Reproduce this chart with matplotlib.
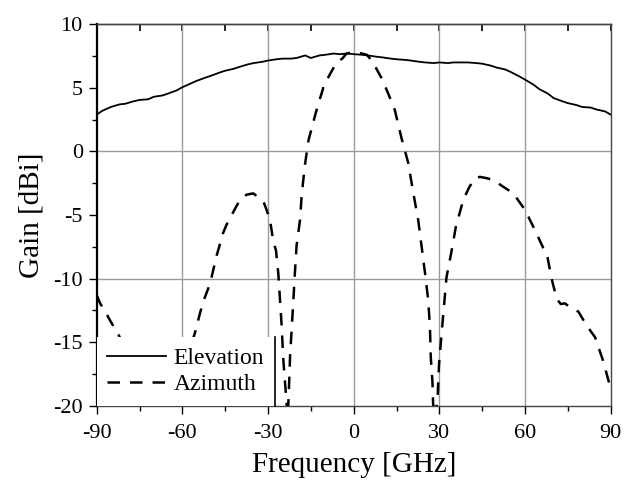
import matplotlib
matplotlib.use("Agg")
import matplotlib.pyplot as plt
from matplotlib.ticker import MultipleLocator, FixedLocator

plt.rcParams['font.family'] = ['Liberation Serif', 'DejaVu Serif']
plt.rcParams['axes.unicode_minus'] = False

# Elevation cut (solid)
elev_x = [-90, -88, -85, -82, -80, -77, -75, -72, -70, -67, -65, -62, -60, -57, -55, -52, -50,
          -47, -45, -42, -40, -37, -35, -32, -30, -27, -25, -22, -20, -17, -15, -12, -10, -7,
          -5, -2, 0, 3, 5, 8, 10, 13, 15, 18, 20, 23, 25, 28, 30, 33, 35, 38, 40, 43, 45, 48,
          50, 53, 55, 58, 60, 63, 65, 68, 70, 73, 75, 78, 80, 83, 85, 88, 90]
elev_y = [2.9, 3.2, 3.5, 3.7, 3.75, 3.95, 4.05, 4.1, 4.3, 4.4, 4.55, 4.8, 5.05, 5.35, 5.55, 5.8, 5.95,
          6.2, 6.35, 6.5, 6.65, 6.85, 6.95, 7.05, 7.15, 7.25, 7.3, 7.3, 7.35, 7.55, 7.35, 7.55, 7.6, 7.7,
          7.65, 7.7, 7.65, 7.6, 7.55, 7.45, 7.4, 7.3, 7.25, 7.2, 7.15, 7.05, 7.0, 6.95, 7.0, 6.95, 7.0, 7.0, 7.0, 6.95, 6.9, 6.75,
          6.6, 6.45, 6.25, 5.9, 5.65, 5.25, 4.9, 4.55, 4.2, 3.95, 3.8, 3.65, 3.5, 3.45, 3.3, 3.15, 2.9]

# Azimuth cut (dashed)
azi_x = [-90, -88.8, -87, -85.3, -82.4, -80, -75, -70, -65, -60, -56.2, -55.5, -53.8, -52.5, -50.3, -48,
         -45.7, -44.6, -41.3, -39.8, -37.5, -35.2, -33.4, -31.5, -30.5, -29.3, -28.2, -27.2, -26.4,
         -25.8, -25.2, -24.7, -24.1, -23.5, -23.1, -22.6, -22.3, -21.7, -21.2, -20.6, -20.0, -18.8,
         -18.2, -17.1, -15.8, -13.2, -10.4, -8.0, -6.0, -4.0, -2.5, 0.0, 2.0, 4.6, 6.5, 9.8, 12.0,
         14.4, 16.8, 19.1, 20.8, 22.6, 23.8, 25.0, 26.1, 26.7, 27.0, 27.6, 27.8, 28.5, 29.4, 29.9,
         30.8, 31.6, 32.5, 34.3, 35.8, 38.4, 40.5, 42.5, 44.2, 46.5, 48.9, 51.2, 55.9, 60.0, 63.5,
         66.4, 67.6, 69.3, 71.1, 72.5, 74.0, 76.0, 78.7, 81.6, 84.5, 87.4, 89.8, 90.0]
azi_y = [-11.3, -11.95, -12.6, -13.3, -14.4, -15.5, -18.0, -21.0, -22.0, -18.5, -14.7, -14.2, -12.7, -11.7, -10.4, -8.2,
         -6.4, -5.8, -4.4, -3.8, -3.4, -3.3, -3.6, -4.0, -4.6, -5.4, -7.0, -7.8, -9.6,
         -11.7, -13.8, -16.2, -18.0, -19.8, -21.0, -18.2, -16.2, -13.9, -12.0, -9.6, -7.4, -5.4,
         -3.4, -1.1, 0.9, 3.1, 5.2, 6.2, 7.0, 7.3, 7.7, 7.8, 7.75, 7.6, 7.1, 5.75, 4.6,
         3.26, 1.0, -0.9, -3.17, -5.4, -7.5, -9.6, -11.7, -13.8, -16.2, -18.2, -19.8, -21.0, -19.3, -16.7,
         -14.3, -12.2, -9.9, -7.8, -5.9, -3.8, -2.8, -2.1, -2.0, -2.1, -2.25, -2.6, -3.3, -4.6, -6.2,
         -7.6, -8.0, -10.0, -11.6, -12.0, -11.95, -12.3, -12.6, -13.7, -14.6, -16.5, -18.5, -18.8]

x_ticks = [-90, -60, -30, 0, 30, 60, 90]
y_ticks = [-20, -15, -10, -5, 0, 5, 10]

fig = plt.figure(figsize=(6.25, 4.83), dpi=100)
ax = fig.add_axes([0.1547, 0.160, 0.8224, 0.7897])

# grid
for gx in [-60, -30, 0, 30, 60]:
    ax.axvline(gx, color='#9a9a9a', lw=1.0, zorder=1)
for gy in [-10, 0]:
    ax.axhline(gy, color='#9a9a9a', lw=1.0, zorder=1)

ax.plot(elev_x, elev_y, color='black', lw=1.3, label='Elevation', zorder=3)
ax.plot(azi_x, azi_y, color='black', lw=1.8, linestyle=(0, (5, 4)), label='Azimuth', zorder=3)

ax.set_xlim(-90, 90)
ax.set_ylim(-20, 10)
ax.xaxis.set_major_locator(FixedLocator(x_ticks))
ax.xaxis.set_minor_locator(MultipleLocator(15))
ax.yaxis.set_major_locator(FixedLocator(y_ticks))
ax.yaxis.set_minor_locator(MultipleLocator(2.5))
ax.tick_params(axis='both', which='major', direction='out', length=6, width=1.0, labelsize=16, pad=4)
ax.tick_params(axis='both', which='minor', direction='out', length=3.5, width=1.0)
ax.tick_params(axis='x', which='major', pad=7)

# top ticks pointing inward
top = ax.secondary_xaxis('top')
top.xaxis.set_major_locator(MultipleLocator(15))
top.tick_params(direction='in', length=5, width=1.2, labeltop=False)
top.spines['top'].set_linewidth(1.0)
top.spines['top'].set_color('#444444')

for s in ['top', 'right', 'bottom']:
    ax.spines[s].set_linewidth(1.0)
    ax.spines[s].set_color('#444444')
ax.spines['left'].set_linewidth(1.6)

ax.set_xlabel('Frequency [GHz]', fontsize=21, labelpad=7)
ax.set_ylabel('Gain [dBi]', fontsize=21, labelpad=6)

leg = ax.legend(loc='lower left', bbox_to_anchor=(0, 0), borderaxespad=0, fontsize=17,
                frameon=True, fancybox=False, framealpha=1, edgecolor='none', facecolor='white',
                handlelength=2.5, handletextpad=0.3, borderpad=0.45, labelspacing=0.2)
leg.set_zorder(5)

fig.canvas.draw()
bb = leg.get_window_extent().transformed(ax.transAxes.inverted())
ax.plot([bb.x1, bb.x1], [0, bb.y1], color='black', lw=1.2, transform=ax.transAxes,
        zorder=6, clip_on=False)

fig.savefig('out.png', dpi=100)
